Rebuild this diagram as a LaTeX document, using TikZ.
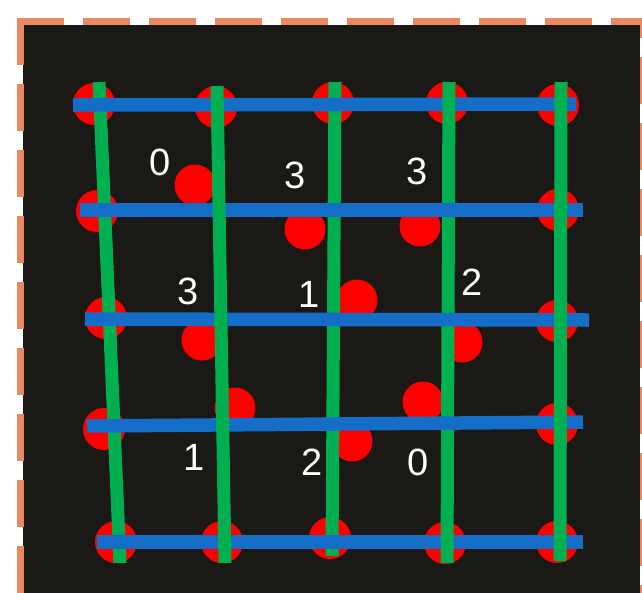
\documentclass[tikz,border=0pt]{standalone}
\usepackage{fontspec}
\setmainfont{Liberation Sans}
\definecolor{bgblack}{RGB}{26,25,21}
\definecolor{dotred}{RGB}{255,0,0}
\definecolor{lineblue}{RGB}{20,110,200}
\definecolor{linegreen}{RGB}{0,176,80}
\definecolor{frameorange}{RGB}{234,136,96}
\begin{document}
\begin{tikzpicture}[x=1pt,y=-1pt,
  dotr/.style={fill=dotred},
  hline/.style={draw=lineblue,line width=13.5pt},
  vline/.style={draw=linegreen,line width=13pt},
  lbl/.style={text=white,inner sep=0pt,font=\fontsize{38}{40}\selectfont},
  framedash/.style={draw=frameorange,line width=7pt,dash pattern=on 47pt off 19pt}]
\useasboundingbox (0,0) rectangle (642,592);
% background
\fill[bgblack] (23,25) rectangle (640,600);
% frame
\draw[framedash] (16.5,21.5) -- (650,21.5);
\draw[framedash] (20,18) -- (20,600);
\draw[framedash,dash phase=27pt] (643.5,18) -- (643.5,600);
% grid dots
\foreach \p in {(94,104),(216,107),(333,103),(447,103),(558,105),
                (97,211),(558,210),(106,318),(557,321),(104,429),(557,424),
                (116,542),(222,542),(330,538),(445,543),(557,542)}
  \fill[dotr] \p circle[radius=21];
% displaced dots
\foreach \p in {(195,185),(305,229),(420,226),(202,340),(357,300),(462,342),
                (235,408),(352,441),(423,402)}
  \fill[dotr] \p circle[radius=20.5];
% lines (z-order as in the reference)
\draw[vline] (99,82) -- (120,563);
\draw[vline] (335,82) -- (332,556);
\draw[hline] (73,105) -- (576,104);
\draw[hline] (97,542) -- (583,542);
\draw[vline] (449,82) -- (447,563);
\draw[hline] (80,210) -- (583,210);
\draw[hline] (85,319) -- (589,320);
\draw[hline] (87,426) -- (583,422);
\draw[vline] (217,86) -- (225,563);
\draw[vline] (561,82) -- (560,561);
% labels
\node[lbl] (l11) at (160,162) {0};
\node[lbl] (l12) at (295,175) {3};
\node[lbl] (l13) at (417,171) {3};
\node[lbl] (l21) at (188,291) {3};
\node[lbl] (l22) at (309.5,294) {1};
\node[lbl] (l24) at (472,282) {2};
\node[lbl] (l41) at (194.5,457) {1};
\node[lbl] (l42) at (312,462) {2};
\node[lbl] (l43) at (418,462) {0};
\end{tikzpicture}
\end{document}
